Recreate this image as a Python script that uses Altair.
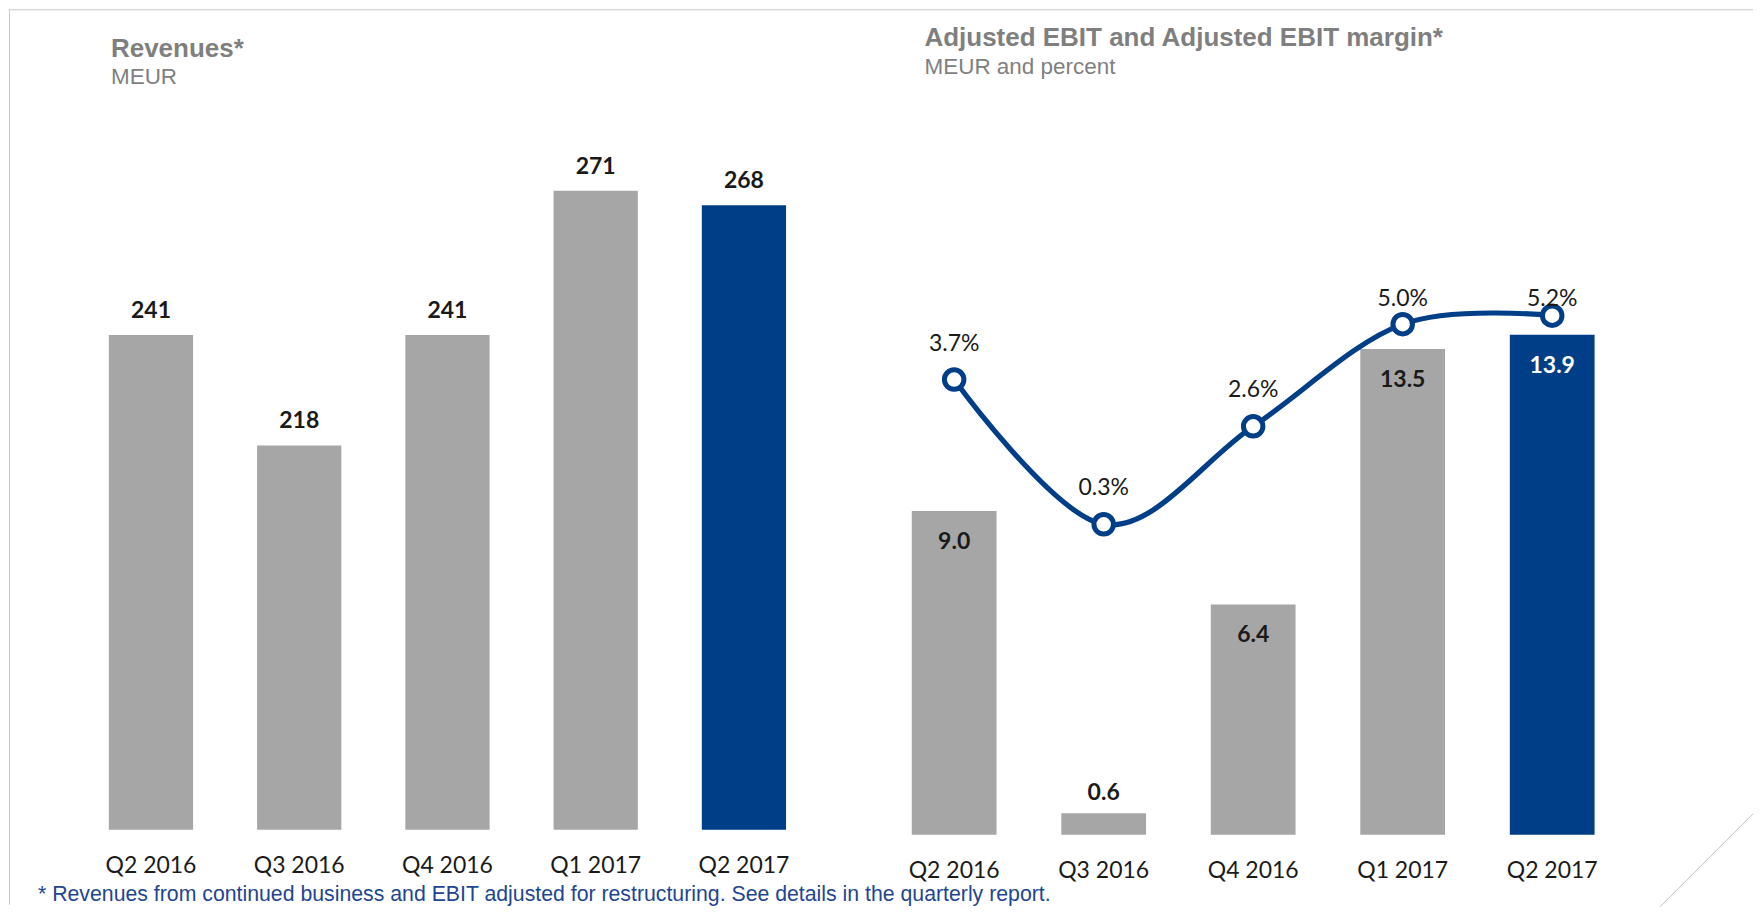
import altair as alt
import pandas as pd

# ---------------- data ----------------
quarters = ["Q2 2016", "Q3 2016", "Q4 2016", "Q1 2017", "Q2 2017"]
revenues = [241, 218, 241, 271, 268]
ebit = [9.0, 0.6, 6.4, 13.5, 13.9]
margin = [3.7, 0.3, 2.6, 5.0, 5.2]
highlight_quarter = "Q2 2017"

title_left = "Revenues*"
subtitle_left = "MEUR"
title_right = "Adjusted EBIT and Adjusted EBIT margin*"
subtitle_right = "MEUR and percent"
footnote = ("* Revenues from continued business and EBIT adjusted for restructuring. "
            "See details in the quarterly report.")

# ---------------- style ----------------
GRAY = "#A6A6A6"
BLUE = "#003F87"
TXT = "#1A1A1A"
TITLE_GRAY = "#7F7F7F"
FOOT_BLUE = "#1F4690"
BORDER = "#C8C8C8"
LABEL_FONT = "Lato"
TITLE_FONT = "Liberation Sans"
FOOT_FONT = "Liberation Sans Narrow, Arial Narrow, Liberation Sans"

df = pd.DataFrame({"quarter": quarters, "revenue": revenues,
                   "ebit": ebit, "margin": margin})
one = pd.DataFrame({"k": [0]})


def text_layer(txt, x, y, size, weight, color, font):
    return alt.Chart(one).mark_text(
        text=txt, align="left", baseline="middle", font=font,
        fontSize=size, fontWeight=weight, color=color
    ).encode(x=alt.value(x), y=alt.value(y))


def rule_layer(x, y, x2, y2, color, w=1):
    return alt.Chart(one).mark_rule(color=color, strokeWidth=w).encode(
        x=alt.value(x), y=alt.value(y), x2=alt.value(x2), y2=alt.value(y2))


def x_axis():
    return alt.Axis(labelAngle=0, domain=False, ticks=False, tickSize=0,
                    labelPadding=25, labelFont=LABEL_FONT, labelFontSize=23,
                    labelColor=TXT, grid=False)


bar_color = alt.condition(alt.datum.quarter == highlight_quarter,
                          alt.value(BLUE), alt.value(GRAY))

# ---------------- left panel: revenues ----------------
LW, LH = 842, 729
rev_scale = alt.Scale(domain=[138, 289.66], nice=False, zero=False)
x_l = alt.X("quarter:N", sort=quarters, title=None,
            scale=alt.Scale(paddingInner=0.4316, paddingOuter=0.5542, align=0.6077),
            axis=x_axis())

base_l = alt.Chart(df)
bars_l = base_l.mark_bar(clip=True).encode(
    x=x_l, y=alt.Y("revenue:Q", scale=rev_scale, axis=None), color=bar_color)
labels_l = base_l.mark_text(font=LABEL_FONT, fontSize=23, fontWeight="bold",
                            color=TXT, baseline="middle", dy=-24).encode(
    x=alt.X("quarter:N", sort=quarters),
    y=alt.Y("revenue:Q", scale=rev_scale, axis=None),
    text=alt.Text("revenue:Q", format="d"))

left = alt.layer(
    bars_l, labels_l,
    text_layer(title_left, 102, -52, 26, "bold", TITLE_GRAY, TITLE_FONT),
    text_layer(subtitle_left, 102, -24, 22.5, "normal", TITLE_GRAY, TITLE_FONT),
    text_layer(footnote, 29, 794, 21.3, "normal", FOOT_BLUE, FOOT_FONT),
    rule_layer(0, -91.5, 1745, -91.5, BORDER),
    rule_layer(0.5, -92, 0.5, 804, BORDER),
).properties(width=LW, height=LH)

# ---------------- right panel: EBIT + margin ----------------
RW, RH = 904, 734
ebit_scale = alt.Scale(domain=[0, 20.389], nice=False, zero=False)
margin_scale = alt.Scale(domain=[-6.993, 10.237], nice=False, zero=False)
x_r = alt.X("quarter:N", sort=quarters, title=None,
            scale=alt.Scale(paddingInner=0.433, paddingOuter=0.738, align=0.2776),
            axis=x_axis())
xr_plain = alt.X("quarter:N", sort=quarters)

base_r = alt.Chart(df)
bars_r = base_r.mark_bar().encode(
    x=x_r, y=alt.Y("ebit:Q", scale=ebit_scale, axis=None), color=bar_color)
in_labels = base_r.transform_filter("datum.ebit >= 2").mark_text(
    font=LABEL_FONT, fontSize=23, fontWeight="bold", baseline="middle", dy=31
).encode(
    x=xr_plain, y=alt.Y("ebit:Q", scale=ebit_scale, axis=None),
    text=alt.Text("ebit:Q", format=".1f"),
    color=alt.condition(alt.datum.quarter == highlight_quarter,
                        alt.value("white"), alt.value(TXT)))
out_labels = base_r.transform_filter("datum.ebit < 2").mark_text(
    font=LABEL_FONT, fontSize=23, fontWeight="bold", baseline="middle",
    dy=-20, color=TXT
).encode(
    x=xr_plain, y=alt.Y("ebit:Q", scale=ebit_scale, axis=None),
    text=alt.Text("ebit:Q", format=".1f"))
line = base_r.mark_line(interpolate="cardinal", color=BLUE, strokeWidth=5.2).encode(
    x=xr_plain, y=alt.Y("margin:Q", scale=margin_scale, axis=None))
pts = base_r.mark_circle(size=380, fill="white", stroke=BLUE, strokeWidth=5,
                         opacity=1, fillOpacity=1).encode(
    x=xr_plain, y=alt.Y("margin:Q", scale=margin_scale, axis=None))
pct = base_r.transform_calculate(
    label_y="min(datum.margin + 0.845, 5.6)",
    label_txt="format(datum.margin, '.1f') + '%'"
).mark_text(font=LABEL_FONT, fontSize=23, color=TXT, baseline="middle").encode(
    x=xr_plain, y=alt.Y("label_y:Q", scale=margin_scale, axis=None),
    text="label_txt:N")

right = alt.layer(
    bars_r, in_labels, out_labels, line, pts, pct,
    text_layer(title_right, 74, -63, 26, "bold", TITLE_GRAY, TITLE_FONT),
    text_layer(subtitle_right, 74, -34, 22.5, "normal", TITLE_GRAY, TITLE_FONT),
    rule_layer(810, 806, 903, 713, "#BFBFBF"),
).resolve_scale(y="independent").properties(width=RW, height=RH)

chart = alt.hconcat(left, right, spacing=0, bounds="flush").properties(
    padding=0, background="white"
).configure_view(stroke=None)

chart.save("out.html", embed_options={"renderer": "svg", "actions": False})
